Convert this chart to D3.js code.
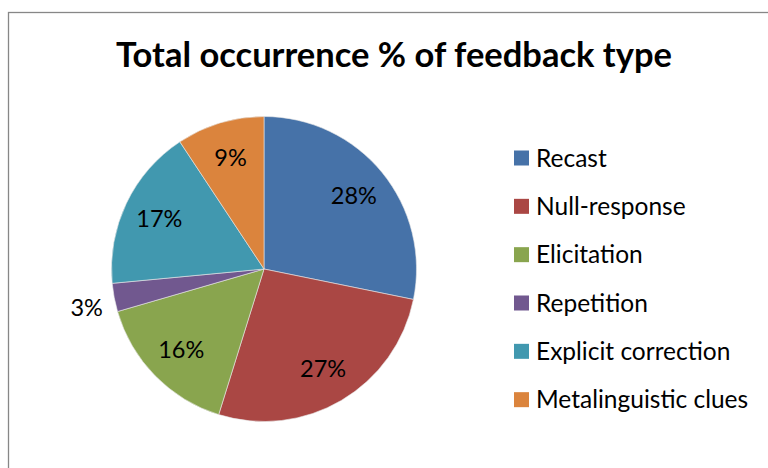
<!DOCTYPE html>
<html>
<head>
<meta charset="utf-8">
<script src="https://cdn.jsdelivr.net/npm/d3@7"></script>
<style>
  body { margin: 0; background: #fff; }
  text { font-family: Lato, "Open Sans", sans-serif; fill: #000; }
</style>
</head>
<body>
<script>
const categories = ['Recast', 'Null-response', 'Elicitation', 'Repetition',
  'Explicit correction', 'Metalinguistic clues'];
const values = [28.2, 26.6, 15.7, 3.0, 17.2, 9.3];
const colors = ['#4672A8', '#AA4744', '#89A54E', '#71588F', '#4198AF', '#DB843D'];
const title = 'Total occurrence % of feedback type';

const w = 768;
const h = 468;
const cx = 264;
const cy = 269;
const radius = 152.5;

const data = categories.map((c, i) => ({ name: c, value: values[i], color: colors[i] }));

const svg = d3.select('body')
  .append('svg')
  .attr('width', w)
  .attr('height', h);

// chart frame
svg.append('rect')
  .attr('x', 8.5)
  .attr('y', 12.5)
  .attr('width', 800)
  .attr('height', 500)
  .attr('fill', '#fff')
  .attr('stroke', '#878787')
  .attr('stroke-width', 1.3);

svg.append('text')
  .attr('x', 394)
  .attr('y', 67)
  .attr('text-anchor', 'middle')
  .attr('font-weight', 'bold')
  .attr('font-size', 34.5)
  .text(title);

const pie = d3.pie().sort(null).value((d) => d.value);
const arc = d3.arc().innerRadius(0).outerRadius(radius);
const labelArc = d3.arc().innerRadius(116).outerRadius(116);
const outerArc = d3.arc().innerRadius(radius + 28).outerRadius(radius + 28);

const g = svg.append('g')
  .attr('transform', `translate(${cx}, ${cy})`);

const slices = g.selectAll('g.slice')
  .data(pie(data))
  .enter()
  .append('g')
  .attr('class', 'slice');

slices.append('path')
  .attr('d', arc)
  .attr('fill', (d) => d.data.color)
  .attr('stroke', '#e8e8e8')
  .attr('stroke-width', 0.6);

// small slices get their label outside (excel best fit)
slices.append('text')
  .attr('transform', (d) => {
    const p = d.data.value < 5 ? outerArc.centroid(d) : labelArc.centroid(d);
    return `translate(${p[0]}, ${p[1] + (d.data.value < 5 ? 5 : 0)})`;
  })
  .attr('text-anchor', 'middle')
  .attr('dy', '0.35em')
  .attr('font-size', 23.5)
  .text((d) => Math.round(d.data.value) + '%');

//legend
const legend = svg.append('g')
  .attr('transform', 'translate(514, 158)');

const rowScale = d3.scaleBand()
  .domain(categories)
  .range([0, 290]);

const rows = legend.selectAll('g')
  .data(data)
  .enter()
  .append('g')
  .attr('transform', (d) => `translate(0, ${rowScale(d.name)})`);

rows.append('rect')
  .attr('x', 0)
  .attr('y', -7.5)
  .attr('width', 15)
  .attr('height', 15)
  .attr('fill', (d) => d.color);

rows.append('text')
  .attr('x', 22)
  .attr('dy', '0.35em')
  .attr('font-size', 24.5)
  .text((d) => d.name);
</script>
</body>
</html>
